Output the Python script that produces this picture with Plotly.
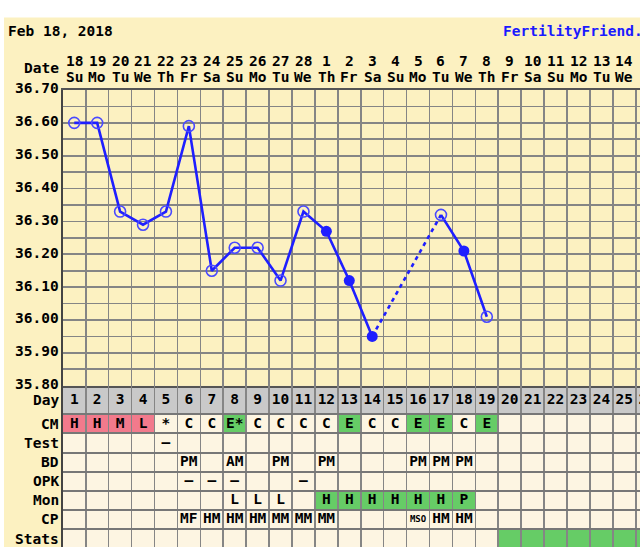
import plotly.graph_objects as go

# ---------------- data ----------------
date_nums = ["18", "19", "20", "21", "22", "23", "24", "25", "26", "27", "28",
             "1", "2", "3", "4", "5", "6", "7", "8", "9", "10", "11", "12", "13", "14", "15", "16"]
weekdays = ["Su", "Mo", "Tu", "We", "Th", "Fr", "Sa"] * 3 + ["Su", "Mo", "Tu", "We", "Th", "Fr"]
cycle_days = list(range(1, 28))

temps = [36.60, 36.60, 36.33, 36.29, 36.33, 36.59, 36.15, 36.22, 36.22, 36.12,
         36.33, 36.27, 36.12, 35.95, None, None, 36.32, 36.21, 36.01]
temp_filled = [0, 0, 0, 0, 0, 0, 0, 0, 0, 0, 0, 1, 1, 1, 0, 0, 0, 1, 0]

temp_ticks = [35.80, 35.90, 36.00, 36.10, 36.20, 36.30, 36.40, 36.50, 36.60, 36.70]

cm = ["H", "H", "M", "L", "*", "C", "C", "E*", "C", "C", "C", "C", "E", "C", "C", "E", "E", "C", "E"]
cm_kind = ["flow", "flow", "flow", "flow", "", "", "", "egg", "", "", "", "", "egg", "", "", "egg", "egg", "", "egg"]
test = ["", "", "", "", "–", "", "", "", "", "", "", "", "", "", "", "", "", "", ""]
bd = ["", "", "", "", "", "PM", "", "AM", "", "PM", "", "PM", "", "", "", "PM", "PM", "PM", ""]
opk = ["", "", "", "", "", "–", "–", "–", "", "", "–", "", "", "", "", "", "", "", ""]
mon = ["", "", "", "", "", "", "", "L", "L", "L", "", "H", "H", "H", "H", "H", "H", "P", ""]
cp = ["", "", "", "", "", "MF", "HM", "HM", "HM", "MM", "MM", "MM", "", "", "", "MSO", "HM", "HM", ""]
stats = [0] * 19 + [1] * 8

row_labels = ["Day", "CM", "Test", "BD", "OPK", "Mon", "CP", "Stats"]

# ---------------- styling / geometry ----------------
W, H = 640, 547
X0 = 62.8          # left edge of the grid (px)
CW = 22.92         # column width (px)
PY_TOP = 90.0      # 36.70 line (px)
PY_BOT = 385.7     # 35.80 line (px)
ROW_H = 19.1       # table row height (px)
DAY_ROW = 1.5      # height of Day row in table units

BEIGE = "#fcf1c1"
CREAM = "#fdf5e2"
GRAYROW = "#c9c9c9"
GRID = "#858585"
PINK = "#f27a8c"
GREEN = "#66cc66"
BLUE = "#1f1fff"
OPENBLUE = "#4a4aff"
FONT = "DejaVu Sans Mono"
FS = 14.5


def py(p):
    return 1 - p / H


fig = go.Figure()

# ---- temperature line ----
days = list(range(1, len(temps) + 1))
fig.add_trace(go.Scatter(x=days, y=temps, mode="lines", connectgaps=False,
                         line=dict(color=BLUE, width=2.6), hoverinfo="skip"))
# dashed connectors across missing days
i = 0
while i < len(temps):
    if temps[i] is None:
        j = i
        while j < len(temps) and temps[j] is None:
            j += 1
        if i > 0 and j < len(temps):
            fig.add_trace(go.Scatter(x=[days[i - 1], days[j]], y=[temps[i - 1], temps[j]],
                                     mode="lines", line=dict(color=BLUE, width=2.6, dash="4px,4px"),
                                     hoverinfo="skip"))
        i = j
    else:
        i += 1

ox = [d for d, t, f in zip(days, temps, temp_filled) if t is not None and not f]
oy = [t for t, f in zip(temps, temp_filled) if t is not None and not f]
fx = [d for d, t, f in zip(days, temps, temp_filled) if t is not None and f]
fy = [t for t, f in zip(temps, temp_filled) if t is not None and f]
fig.add_trace(go.Scatter(x=ox, y=oy, mode="markers",
                         marker=dict(symbol="circle-open", size=11, color=OPENBLUE, line=dict(width=1.6)),
                         hoverinfo="skip"))
fig.add_trace(go.Scatter(x=fx, y=fy, mode="markers",
                         marker=dict(symbol="circle", size=11, color=BLUE), hoverinfo="skip"))

# ---- table ----
row_centers = [DAY_ROW / 2] + [DAY_ROW + k + 0.5 for k in range(len(row_labels) - 1)]
row_bounds = [0, DAY_ROW] + [DAY_ROW + k + 1 for k in range(len(row_labels) - 1)]

shapes = []
# beige frame
shapes.append(dict(type="rect", xref="paper", yref="paper", x0=4 / W, x1=1.2, y0=-0.1, y1=py(17.5),
                   fillcolor=BEIGE, line=dict(width=0), layer="below"))
# table cream background
shapes.append(dict(type="rect", xref="x domain", yref="y2", x0=0, x1=1.2, y0=0, y1=10,
                   fillcolor=CREAM, line=dict(width=0), layer="below"))
# day row gray
shapes.append(dict(type="rect", xref="x domain", yref="y2", x0=0, x1=1.2, y0=0, y1=DAY_ROW,
                   fillcolor=GRAYROW, line=dict(width=0), layer="below"))


def cell(day, r, color):
    shapes.append(dict(type="rect", xref="x", yref="y2", x0=day - 0.5, x1=day + 0.5,
                       y0=row_bounds[r], y1=row_bounds[r + 1], fillcolor=color,
                       line=dict(width=0), layer="below"))


for d, k in zip(days, cm_kind):
    if k == "flow":
        cell(d, 1, PINK)
    elif k == "egg":
        cell(d, 1, GREEN)
for d, v in zip(days, mon):
    if v in ("H", "P"):
        cell(d, 5, GREEN)
for d, s in zip(cycle_days, stats):
    if s:
        cell(d, 7, GREEN)

tfont = dict(family=FONT, size=FS, color="black", weight="bold")


def text_row(vals, r, small=None):
    xs = [d for d, v in zip(cycle_days, vals) if v]
    ts = [v for v in vals if v]
    sizes = [9 if (small and v in small) else FS for v in ts]
    fig.add_trace(go.Scatter(x=xs, y=[row_centers[r]] * len(xs), mode="text", text=ts,
                             textposition="middle center",
                             textfont=dict(family=FONT, size=sizes, color="black", weight="bold"),
                             xaxis="x", yaxis="y2", hoverinfo="skip"))


text_row([str(d) for d in cycle_days], 0)
text_row(cm, 1)
text_row(test, 2)
text_row(bd, 3)
text_row(opk, 4)
text_row(mon, 5)
text_row(cp, 6, small={"MSO"})

annotations = []
for r, lab in enumerate(row_labels):
    annotations.append(dict(x=60.5 / W, xref="paper", xanchor="right", y=row_centers[r], yref="y2",
                            text=lab, showarrow=False, font=tfont))
# date header
for d, n, w in zip(cycle_days, date_nums, weekdays):
    annotations.append(dict(x=d, xref="x", y=py(61), yref="paper", text=n, showarrow=False,
                            font=tfont, yanchor="middle"))
    annotations.append(dict(x=d, xref="x", y=py(77.5), yref="paper", text=w, showarrow=False,
                            font=tfont, yanchor="middle"))
annotations.append(dict(x=60.5 / W, xref="paper", xanchor="right", y=py(68.5), yref="paper",
                        text="Date", showarrow=False, font=tfont, yanchor="middle"))
annotations.append(dict(x=6 / W, xref="paper", xanchor="left", y=py(31.5), yref="paper",
                        text="Feb 18, 2018", showarrow=False, font=tfont, yanchor="middle"))
annotations.append(dict(x=501 / W, xref="paper", xanchor="left", y=py(31.5), yref="paper",
                        text="FertilityFriend.com", showarrow=False,
                        font=dict(family=FONT, size=FS, color="#1a1aff", weight="bold"), yanchor="middle"))
# temperature labels
for t in temp_ticks:
    annotations.append(dict(x=60.5 / W, xref="paper", xanchor="right", y=t, yref="y", yshift=1.5,
                            text=f"{t:.2f}", showarrow=False, font=tfont, yanchor="middle"))

x_range = [0.5, 0.5 + (W - X0) / CW]
grid_y = [round(35.80 + 0.05 * k, 2) for k in range(19)]

fig.update_layout(
    width=W, height=H, margin=dict(l=0, r=0, t=0, b=0),
    paper_bgcolor="white", plot_bgcolor=BEIGE, showlegend=False,
    shapes=shapes, annotations=annotations,
    xaxis=dict(domain=[X0 / W, 1], range=x_range, tickvals=[d + 0.5 for d in range(0, 30)],
               showticklabels=False, ticks="", showgrid=True, gridcolor=GRID, gridwidth=1.6,
               zeroline=False, showline=True, linecolor="#555555", linewidth=2, mirror=True,
               anchor="y", fixedrange=True),
    yaxis=dict(domain=[py(PY_BOT), py(PY_TOP)], range=[35.80, 36.70], tickvals=grid_y,
               showticklabels=False, ticks="", showgrid=True, gridcolor=GRID, gridwidth=1.6,
               zeroline=False, showline=True, linecolor="#444444", linewidth=2, anchor="x",
               fixedrange=True),
    yaxis2=dict(domain=[0, py(PY_BOT)], range=[(H - PY_BOT) / ROW_H, 0], tickvals=row_bounds,
                showticklabels=False, ticks="", showgrid=True, gridcolor="#777777", gridwidth=2,
                zeroline=False, showline=True, linecolor="#444444", linewidth=2, anchor="x",
                fixedrange=True),
)

fig.write_html("out.html", config={"displayModeBar": False, "staticPlot": True},
               post_script="document.body.style.margin='0px';document.body.style.overflow='hidden';")
